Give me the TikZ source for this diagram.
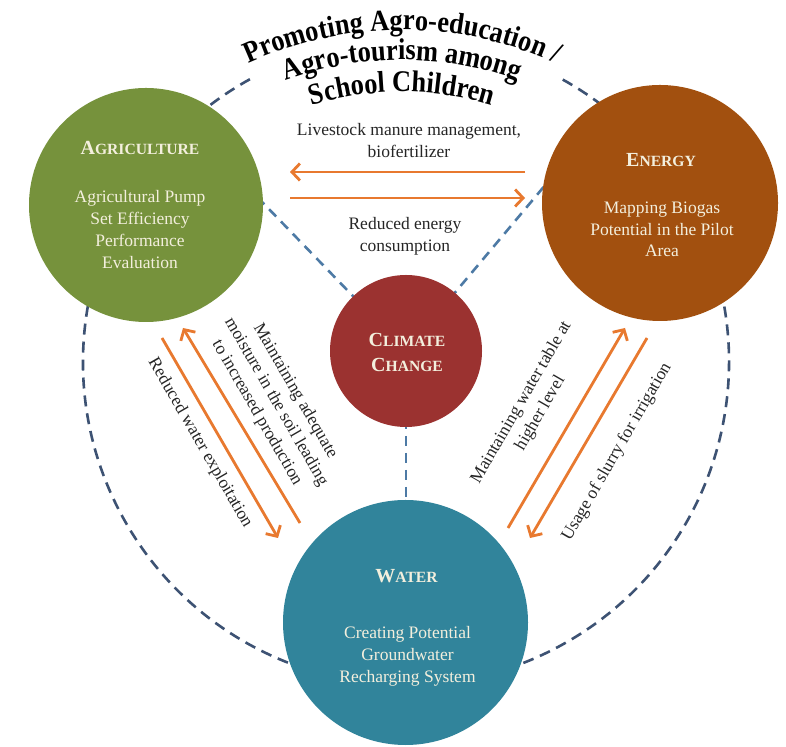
\documentclass[tikz,border=0pt]{standalone}
\usepackage{fontspec}
\setmainfont{Liberation Serif}
\newfontfamily\titlefont[FakeStretch=0.88]{Liberation Serif}
\usetikzlibrary{arrows.meta,decorations.text}
\definecolor{agricol}{HTML}{76923C}
\definecolor{energycol}{HTML}{A2500F}
\definecolor{climcol}{HTML}{9B3230}
\definecolor{watercol}{HTML}{31849B}
\definecolor{arrowcol}{HTML}{E8792F}
\definecolor{dashouter}{HTML}{3D5273}
\definecolor{dashinner}{HTML}{4D7AA5}
\definecolor{cream}{HTML}{F3EFDD}
\definecolor{labelcol}{HTML}{262626}
\newcommand\headsc[2]{{\bfseries\fontsize{20}{24}\selectfont #1\fontsize{15.6}{24}\selectfont #2}}
\begin{document}
\begin{tikzpicture}[x=1pt,y=1pt,
  bigcircle/.style={circle, inner sep=0pt, draw=none},
  headtext/.style={text=cream, inner sep=0pt, align=center, font=\fontsize{20}{25}\selectfont},
  bodytext/.style={text=cream, inner sep=0pt, align=center, font=\fontsize{17.5}{21.7}\selectfont},
  outerdash/.style={draw=dashouter, line width=2.6pt, dash pattern=on 11pt off 7pt},
  innerdash/.style={draw=dashinner, line width=2.6pt, dash pattern=on 10pt off 7pt},
  flowarrow/.style={draw=arrowcol, line width=2.8pt, -{Straight Barb[length=8pt,width=17pt]}},
  flowlabel/.style={text=labelcol, align=center, font=\fontsize{17.5}{22}\selectfont, inner sep=0pt},
  titleline/.style={decorate, decoration={text along path, text align=center, text color=black}}
]
\useasboundingbox (0,0) rectangle (786,746);
\fill[white] (0,0) rectangle (786,746);

\coordinate (oc) at (406,384);
\coordinate (cc) at (406,395);
\coordinate (tc) at (402,346);

% outer dashed ring
\draw[outerdash] (oc) ++(118.9:323) arc[start angle=118.9, end angle=422.1, radius=323];

% inner dashed spokes
\draw[innerdash] (cc) -- ++(134:250);
\draw[innerdash] (cc) -- ++(50:250);
\draw[innerdash] (cc) -- ++(270:160);

% circles
\node[bigcircle, fill=agricol, minimum size=234pt] (agri) at (146,541) {};
\node[bigcircle, fill=energycol, minimum size=236pt] (energy) at (660,543) {};
\node[bigcircle, fill=climcol, minimum size=152pt] (clim) at (cc) {};
\node[bigcircle, fill=watercol, minimum size=245pt] (water) at (405.5,123.5) {};

% circle texts
\node[headtext] (agrihead) at (140,598) {\headsc{A}{GRICULTURE}};
\node[bodytext] (agribody) at (140,516.5) {Agricultural Pump\\Set Efficiency\\Performance\\Evaluation};
\node[headtext] (energyhead) at (661,586) {\headsc{E}{NERGY}};
\node[bodytext] (energybody) at (662,516.5) {Mapping Biogas\\Potential in the Pilot\\Area};
\node[headtext] (climhead) at (407,393.5) {\headsc{C}{LIMATE}\\\headsc{C}{HANGE}};
\node[headtext] (waterhead) at (406.5,170) {\headsc{W}{ATER}};
\node[bodytext] (waterbody) at (407.5,89.5) {Creating Potential\\Groundwater\\Recharging System};

% arrow end points
\coordinate (t1s) at (525,574); \coordinate (t1e) at (290,574);
\coordinate (t2s) at (290,548); \coordinate (t2e) at (525,548);
\coordinate (a1s) at (162,408); \coordinate (a1e) at (278,208);
\coordinate (a2s) at (300,223); \coordinate (a2e) at (183,418);
\coordinate (a3s) at (508,218); \coordinate (a3e) at (625,418);
\coordinate (a4s) at (647,408); \coordinate (a4e) at (530,208);

\draw[flowarrow] (t1s) -- (t1e);
\draw[flowarrow] (t2s) -- (t2e);
\draw[flowarrow] (a1s) -- (a1e);
\draw[flowarrow] (a2s) -- (a2e);
\draw[flowarrow] (a3s) -- (a3e);
\draw[flowarrow] (a4s) -- (a4e);

% arrow labels
\node[flowlabel] (lab1) at (409,605) {Livestock manure management,\\biofertilizer};
\node[flowlabel] (lab2) at (405,510) {Reduced energy\\consumption};
\node[flowlabel, rotate=-60] (lab3) at (200,303) {Reduced water exploitation};
\node[flowlabel, rotate=-60] (lab4) at (276,344) {Maintaining adequate\\moisture in the soil leading\\to increased production};
\node[flowlabel, rotate=60] (lab5) at (531,338) {Maintaining water table at\\higher level};
\node[flowlabel, rotate=60] (lab6) at (617,294) {Usage of slurry for irrigation};

% curved title
\path[titleline, decoration={text={|\titlefont\bfseries\fontsize{30}{30}\selectfont|Promoting Agro-education /}}]
  (tc) ++(150:370) arc[start angle=150, end angle=30, radius=370];
\path[titleline, decoration={text={|\titlefont\bfseries\fontsize{30}{30}\selectfont|Agro-tourism among}}]
  (tc) ++(150:340) arc[start angle=150, end angle=30, radius=340];
\path[titleline, decoration={text={|\titlefont\bfseries\fontsize{30}{30}\selectfont|School Children}}]
  (tc) ++(150:308) arc[start angle=150, end angle=30, radius=308];
\end{tikzpicture}
\end{document}
